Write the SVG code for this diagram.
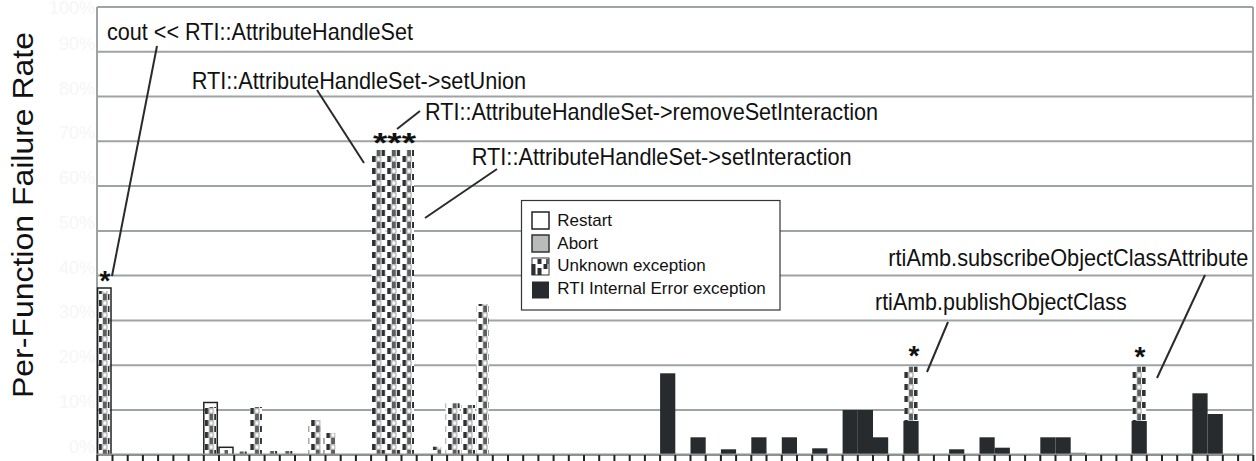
<svg xmlns="http://www.w3.org/2000/svg" width="1256" height="461" viewBox="0 0 1256 461">
  <style>
    .grid { stroke: #9ea4a4; stroke-width: 2; fill: none; }
    .tick { stroke: #222; stroke-width: 2; fill: none; }
    .lbl { font-family: "Liberation Sans", Arial, sans-serif; font-size: 24px; fill: #111; }
    .leg { font-family: "Liberation Sans", Arial, sans-serif; font-size: 17px; fill: #111; }
    .pct { font-family: "Liberation Sans", Arial, sans-serif; font-size: 18px; fill: #f6f6f6; text-anchor: end; }
    .star { font-family: "Liberation Sans", Arial, sans-serif; font-size: 28px; font-weight: bold; fill: #111; }
    .err { fill: #272b2d; }
    .unk { fill: url(#unkPat); }
    .rst { fill: none; stroke: #222; stroke-width: 1.5; }
    .conn { stroke: #2a2a2a; stroke-width: 2; fill: none; }
  </style>
  <defs>
    <!-- checkered fill used for "Unknown exception" -->
    <pattern id="unkPat" patternUnits="userSpaceOnUse" x="97.3" y="0" width="15.21" height="12">
      <rect width="15.21" height="12" fill="#fff"/>
      <rect x="1" y="0" width="3.5" height="6" fill="#2b2f31"/>
      <rect x="10.5" y="6" width="3.5" height="6" fill="#2b2f31"/>
      <rect x="5.5" y="0.8" width="4" height="4.5" fill="none" stroke="#9a9a9a" stroke-width="1"/>
      <rect x="5.5" y="6" width="4" height="6" fill="#5a5e60"/>
    </pattern>
  </defs>

  <rect width="1256" height="461" fill="#fff"/>

  <!-- plot frame and gridlines -->
  <g id="grid">
    <line class="grid" x1="97" y1="6.9" x2="97" y2="454.8" stroke="#c8cccc"/>
    <line class="grid" x1="1253" y1="6.9" x2="1253" y2="454.8"/>
    <path class="grid" d="M97 6.9H1253 M97 51.7H1253 M97 96.5H1253 M97 141.3H1253 M97 186.1H1253 M97 230.9H1253 M97 275.6H1253 M97 320.4H1253 M97 365.2H1253 M97 410H1253"/>
  </g>

  <!-- faint percentage labels -->
  <g id="ylabels">
    <text class="pct" x="95" y="14">100%</text>
    <text class="pct" x="95" y="50">90%</text>
    <text class="pct" x="95" y="95">80%</text>
    <text class="pct" x="95" y="139">70%</text>
    <text class="pct" x="95" y="184">60%</text>
    <text class="pct" x="95" y="229">50%</text>
    <text class="pct" x="95" y="274">40%</text>
    <text class="pct" x="95" y="318">30%</text>
    <text class="pct" x="95" y="363">20%</text>
    <text class="pct" x="95" y="408">10%</text>
    <text class="pct" x="95" y="453">0%</text>
  </g>

  <!-- axis title -->
  <g id="ytitle">
    <text transform="translate(33.3,398) rotate(-90)" x="0" y="0" font-family="Liberation Sans, Arial, sans-serif" font-size="30" fill="#111" textLength="366" lengthAdjust="spacingAndGlyphs">Per-Function Failure Rate</text>
  </g>

  <!-- bars -->
  <g id="bars">
    <!-- restart outlines -->
    <rect class="rst" x="97.6" y="288" width="13.4" height="166.8"/>
    <rect class="rst" x="203.8" y="402.5" width="13.5" height="52.3"/>
    <rect class="rst" x="219" y="447.3" width="14" height="7.5"/>
    <!-- unknown exception -->
    <rect class="unk" x="99" y="291" width="10.5" height="163.8"/>
    <rect class="unk" x="205" y="407" width="11" height="47.8"/>
    <rect class="unk" x="220" y="450" width="8" height="4.8"/>
    <rect class="unk" x="234.7" y="451.5" width="12" height="3.3"/>
    <rect class="unk" x="249.9" y="407" width="12" height="47.8"/>
    <rect class="unk" x="265.1" y="451" width="12" height="3.8"/>
    <rect class="unk" x="280.3" y="451" width="12" height="3.8"/>
    <rect class="unk" x="308.5" y="420" width="12.5" height="34.8"/>
    <rect class="unk" x="323.5" y="433" width="12" height="21.8"/>
    <rect class="unk" x="371.6" y="150" width="14" height="304.8"/>
    <rect class="unk" x="386.3" y="150" width="14" height="304.8"/>
    <rect class="unk" x="401" y="150" width="13" height="304.8"/>
    <rect class="unk" x="432.4" y="446.7" width="9" height="8.1"/>
    <rect class="unk" x="445.6" y="403.3" width="14" height="51.5"/>
    <rect class="unk" x="461" y="405" width="14" height="49.8"/>
    <rect class="unk" x="476.5" y="304" width="12" height="150.8"/>
    <rect class="unk" x="904" y="366.7" width="14" height="54.3"/>
    <rect class="unk" x="1132.2" y="366.7" width="14" height="54.3"/>
    <!-- RTI internal error exception -->
    <rect class="err" x="660.1" y="373.3" width="15.2" height="81.5"/>
    <rect class="err" x="690.5" y="437.3" width="15.2" height="17.5"/>
    <rect class="err" x="720.9" y="449.3" width="15.2" height="5.5"/>
    <rect class="err" x="751.3" y="437.3" width="15.2" height="17.5"/>
    <rect class="err" x="781.8" y="437.3" width="15.2" height="17.5"/>
    <rect class="err" x="812.2" y="448.3" width="15.2" height="6.5"/>
    <rect class="err" x="842.6" y="410" width="15.2" height="44.8"/>
    <rect class="err" x="857.8" y="410" width="15.2" height="44.8"/>
    <rect class="err" x="873" y="437.3" width="15.2" height="17.5"/>
    <rect class="err" x="903.4" y="421" width="15.2" height="33.8"/>
    <rect class="err" x="949.1" y="449.3" width="15.2" height="5.5"/>
    <rect class="err" x="979.5" y="437.3" width="15.2" height="17.5"/>
    <rect class="err" x="994.7" y="447.7" width="15.2" height="7.1"/>
    <rect class="err" x="1040.3" y="437.3" width="15.2" height="17.5"/>
    <rect class="err" x="1055.5" y="437.3" width="15.2" height="17.5"/>
    <rect x="1070.7" y="452.7" width="15.2" height="2.1" fill="#888"/>
    <rect class="err" x="1131.6" y="421" width="15.2" height="33.8"/>
    <rect class="err" x="1192.4" y="393.3" width="15.2" height="61.5"/>
    <rect class="err" x="1207.6" y="414" width="15.2" height="40.8"/>
  </g>

  <!-- category axis -->
  <g id="axis">
    <line x1="97" y1="454.8" x2="1253" y2="454.8" stroke="#8d9393" stroke-width="2.5"/>
    <path class="tick" d="M97.3 455V461 M112.5 455V461 M127.7 455V461 M142.9 455V461 M158.1 455V461 M173.4 455V461 M188.6 455V461 M203.8 455V461 M219 455V461 M234.2 455V461 M249.4 455V461 M264.6 455V461 M279.8 455V461 M295 455V461 M310.2 455V461 M325.5 455V461 M340.7 455V461 M355.9 455V461 M371.1 455V461 M386.3 455V461 M401.5 455V461 M416.7 455V461 M431.9 455V461 M447.1 455V461 M462.3 455V461 M477.6 455V461 M492.8 455V461 M508 455V461 M523.2 455V461 M538.4 455V461 M553.6 455V461 M568.8 455V461 M584 455V461 M599.2 455V461 M614.4 455V461 M629.7 455V461 M644.9 455V461 M660.1 455V461 M675.3 455V461 M690.5 455V461 M705.7 455V461 M720.9 455V461 M736.1 455V461 M751.3 455V461 M766.5 455V461 M781.8 455V461 M797 455V461 M812.2 455V461 M827.4 455V461 M842.6 455V461 M857.8 455V461 M873 455V461 M888.2 455V461 M903.4 455V461 M918.6 455V461 M933.9 455V461 M949.1 455V461 M964.3 455V461 M979.5 455V461 M994.7 455V461 M1009.9 455V461 M1025.1 455V461 M1040.3 455V461 M1055.5 455V461 M1070.7 455V461 M1086 455V461 M1101.2 455V461 M1116.4 455V461 M1131.6 455V461 M1146.8 455V461 M1162 455V461 M1177.2 455V461 M1192.4 455V461 M1207.6 455V461 M1222.8 455V461 M1238.1 455V461 M1253.3 455V461"/>
  </g>

  <!-- significance marks -->
  <g id="stars">
    <text class="star" x="105" y="290" text-anchor="middle">*</text>
    <text class="star" x="394.5" y="151.7" text-anchor="middle" textLength="43" lengthAdjust="spacingAndGlyphs">***</text>
    <text class="star" x="914" y="365" text-anchor="middle">*</text>
    <text class="star" x="1140" y="366" text-anchor="middle">*</text>
  </g>

  <!-- callout leader lines -->
  <g id="connectors">
    <line class="conn" x1="157" y1="46" x2="112" y2="276"/>
    <line class="conn" x1="317" y1="90" x2="364" y2="163"/>
    <line class="conn" x1="420" y1="111" x2="397" y2="129"/>
    <line class="conn" x1="497" y1="169" x2="425" y2="218"/>
    <line class="conn" x1="948" y1="322" x2="927" y2="372"/>
    <line class="conn" x1="1205" y1="275" x2="1157" y2="378"/>
  </g>

  <!-- callout labels -->
  <g id="label-cout"><text class="lbl" x="107" y="40" textLength="306" lengthAdjust="spacingAndGlyphs">cout &lt;&lt; RTI::AttributeHandleSet</text></g>
  <g id="label-setUnion"><text class="lbl" x="191.7" y="89" textLength="334.5" lengthAdjust="spacingAndGlyphs">RTI::AttributeHandleSet-&gt;setUnion</text></g>
  <g id="label-removeSetInteraction"><text class="lbl" x="425" y="119.5" textLength="453" lengthAdjust="spacingAndGlyphs">RTI::AttributeHandleSet-&gt;removeSetInteraction</text></g>
  <g id="label-setInteraction"><text class="lbl" x="471.7" y="164.5" textLength="380" lengthAdjust="spacingAndGlyphs">RTI::AttributeHandleSet-&gt;setInteraction</text></g>
  <g id="label-subscribe"><text class="lbl" x="888.3" y="265.5" textLength="360" lengthAdjust="spacingAndGlyphs">rtiAmb.subscribeObjectClassAttribute</text></g>
  <g id="label-publish"><text class="lbl" x="875" y="310" textLength="251.7" lengthAdjust="spacingAndGlyphs">rtiAmb.publishObjectClass</text></g>

  <!-- legend -->
  <g id="legend">
    <rect x="521.5" y="200.5" width="258.5" height="109.5" fill="#fff" stroke="#333" stroke-width="1.2"/>
    <rect x="532" y="212" width="17" height="17" fill="#fff" stroke="#222" stroke-width="1.5"/>
    <rect x="532" y="235" width="17" height="17" fill="#b9bbbb" stroke="#333" stroke-width="1.5"/>
    <g>
      <rect x="532" y="258" width="17" height="17" fill="#fff" stroke="#333" stroke-width="1"/>
      <rect x="531.5" y="264" width="4" height="11" fill="#2b2f31"/>
      <rect x="537.5" y="259" width="4" height="5" fill="#2b2f31"/>
      <rect x="537.5" y="268" width="4" height="7" fill="#2b2f31"/>
      <rect x="543.5" y="264" width="4" height="5" fill="#2b2f31"/>
      <rect x="546" y="259" width="3" height="5" fill="#5a5e60"/>
    </g>
    <rect x="532" y="281.5" width="17" height="17" fill="#272b2d"/>
    <text class="leg" x="557.3" y="226">Restart</text>
    <text class="leg" x="557.3" y="248.7">Abort</text>
    <text class="leg" x="557.3" y="271.4">Unknown exception</text>
    <text class="leg" x="557.3" y="294">RTI Internal Error exception</text>
  </g>
</svg>
